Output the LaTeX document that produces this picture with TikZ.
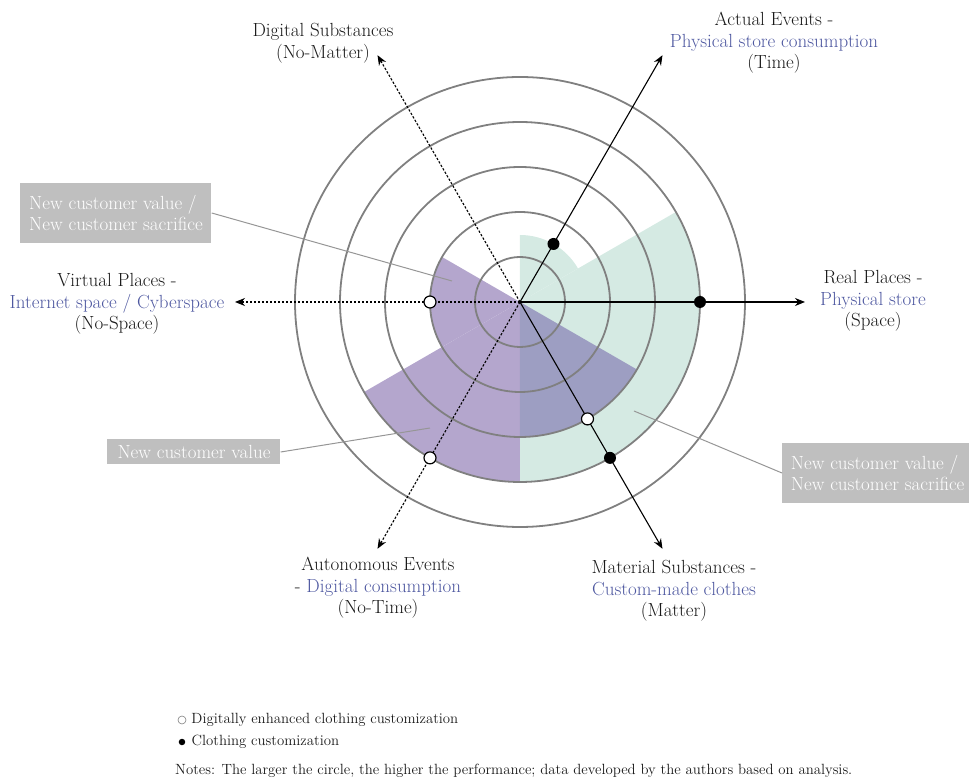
\documentclass[tikz,border=0pt]{standalone}
\usepackage{fontspec}
\usepackage{xcolor}
\usepackage{tikz}
\usetikzlibrary{arrows.meta,positioning,calc}

\definecolor{ringgray}{RGB}{128,128,128}
\definecolor{mint}{RGB}{213,234,227}
\definecolor{lilac}{RGB}{180,166,205}
\definecolor{overlap}{RGB}{157,158,194}
\definecolor{tagbg}{RGB}{191,191,191}
\definecolor{leadgray}{RGB}{150,150,150}
\definecolor{navy}{RGB}{78,88,160}

\begin{document}
\begin{tikzpicture}[
    x=1pt, y=1pt,
    every node/.style={font=\fontsize{19}{21.5}\selectfont},
    ring/.style={draw=ringgray, line width=1.8pt},
    axis/.style={-{Stealth[length=10pt,width=8pt]}, line width=1.1pt},
    noaxis/.style={axis, dash pattern=on 2.4pt off 1.6pt},
    axlabel/.style={align=center, text=black!90},
    tag/.style={rectangle, fill=tagbg, text=white, align=left, font=\fontsize{19}{20.5}\selectfont},
    leader/.style={draw=leadgray, line width=1pt},
    full/.style={circle, fill=black, inner sep=0pt, minimum size=12pt},
    hollow/.style={circle, draw=black, fill=white, line width=1.2pt, inner sep=0pt, minimum size=12pt},
    legtext/.style={font=\fontsize{14.8}{17}\selectfont, inner sep=0pt, anchor=west, text=black!90}
]
\useasboundingbox (-520,-481) rectangle (449,302);
\clip (-520,-481) rectangle (449,302);

\fill[mint] (0,0) -- (-90:180pt) arc[start angle=-90, end angle=30, radius=180pt] -- cycle;
\fill[mint] (0,0) -- (30:67pt) arc[start angle=30, end angle=90, radius=67pt] -- cycle;
\fill[lilac] (0,0) -- (150:90pt) arc[start angle=150, end angle=210, radius=90pt] -- cycle;
\fill[lilac] (0,0) -- (210:180pt) arc[start angle=210, end angle=270, radius=180pt] -- cycle;
\fill[overlap] (0,0) -- (270:135pt) arc[start angle=270, end angle=330, radius=135pt] -- cycle;

\foreach \r in {45pt,90pt,135pt,180pt,225pt}
    \draw[ring] (0,0) circle[radius=\r];

\coordinate (o) at (0,0);
\coordinate (space) at (0:285pt);
\coordinate (time) at (60:285pt);
\coordinate (nomatter) at (120:285pt);
\coordinate (nospace) at (180:285pt);
\coordinate (notime) at (240:285pt);
\coordinate (matter) at (300:285pt);

\node[tag, minimum width=191pt, minimum height=60pt] (tag1) at (-404,89) {New customer value /\\New customer sacrifice};
\node[tag, minimum width=173pt, minimum height=25pt] (tag2) at (-326,-150) {New customer value};
\node[tag, minimum width=191pt, minimum height=60pt, anchor=west] (tag3) at (262,-171) {New customer value /\\New customer sacrifice};

\coordinate (v1) at (-68,21);
\coordinate (v2) at (-90,-126);
\coordinate (v3) at (114,-109);
\draw[leader] (tag1.east) -- (v1);
\draw[leader] (tag2.east) -- (v2);
\draw[leader] (tag3.west) -- (v3);

\draw[axis] (o) -- (space);
\draw[axis] (o) -- (time);
\draw[axis] (o) -- (matter);
\draw[noaxis] (o) -- (nomatter);
\draw[noaxis] (o) -- (nospace);
\draw[noaxis] (o) -- (notime);

\node[full] (d-time) at (60:67pt) {};
\node[full] (d-space) at (0:180pt) {};
\node[full] (d-matter) at (300:180pt) {};
\node[hollow] (h-nospace) at (180:90pt) {};
\node[hollow] (h-notime) at (240:180pt) {};
\node[hollow] (h-matter) at (300:135pt) {};

\node[axlabel] (l-nomatter) at (-197,259) {Digital Substances\\(No-Matter)};
\node[axlabel] (l-time) at (254,259) {Actual Events -\\\textcolor{navy}{Physical store consumption}\\(Time)};
\node[axlabel] (l-space) at (353,1) {Real Places -\\\textcolor{navy}{Physical store}\\(Space)};
\node[axlabel] (l-nospace) at (-403,-2) {Virtual Places -\\\textcolor{navy}{Internet space / Cyberspace}\\(No-Space)};
\node[axlabel] (l-notime) at (-142,-286) {Autonomous Events\\- \textcolor{navy}{Digital consumption}\\(No-Time)};
\node[axlabel] (l-matter) at (154,-289) {Material Substances -\\\textcolor{navy}{Custom-made clothes}\\(Matter)};

\node[circle, draw=gray, line width=0.6pt, inner sep=0pt, minimum size=8pt] (k-open) at (-338,-418) {};
\node[legtext, right=5pt of k-open] (k-open-t) {Digitally enhanced clothing customization};
\node[circle, fill=black, inner sep=0pt, minimum size=6.5pt] (k-full) at (-338,-440) {};
\node[legtext, right=6pt of k-full] (k-full-t) {Clothing customization};
\node[legtext] (notes) at (-345,-469) {Notes: The larger the circle, the higher the performance; data developed by the authors based on analysis.};

\end{tikzpicture}
\end{document}
